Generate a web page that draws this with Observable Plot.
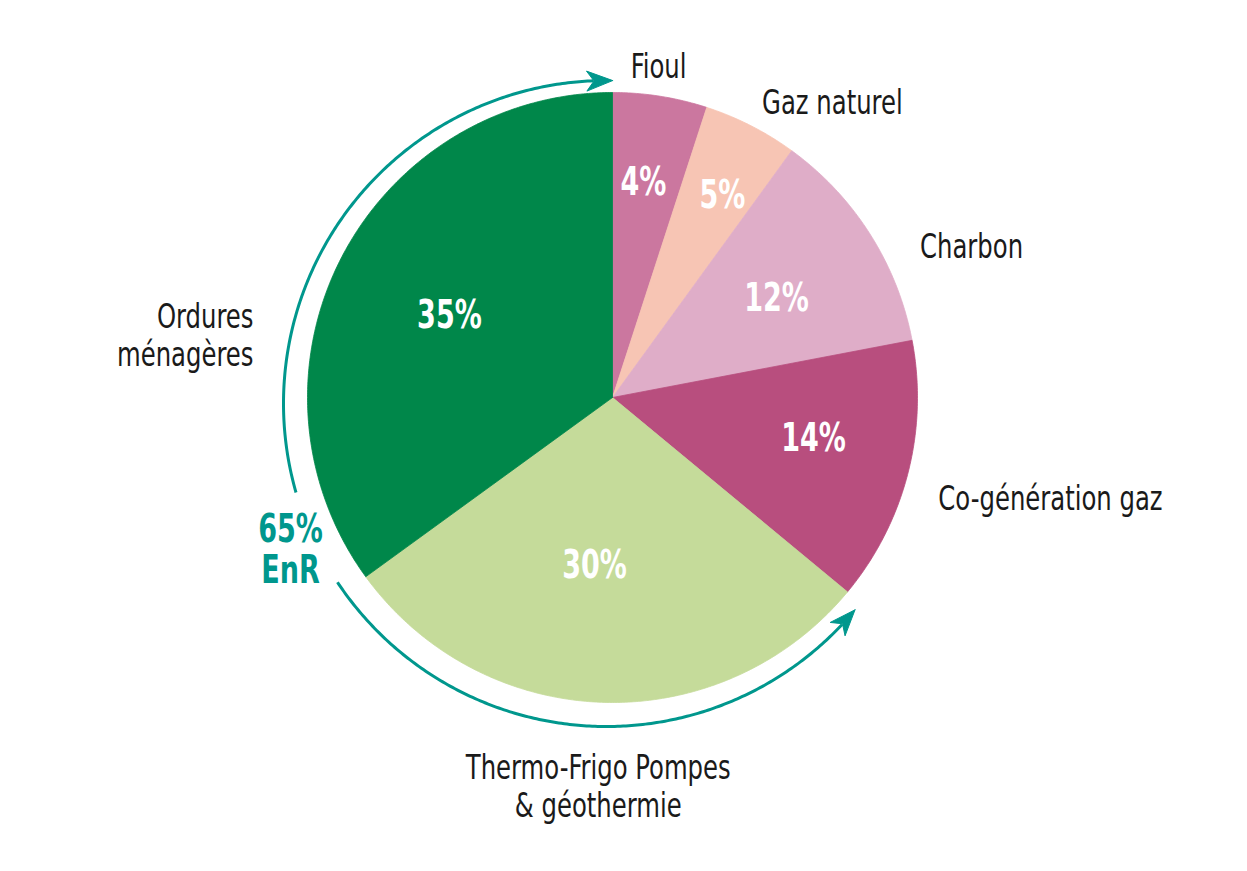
<!DOCTYPE html>
<html><head><meta charset="utf-8">
<script src="https://cdn.jsdelivr.net/npm/d3@7"></script>
<script src="https://cdn.jsdelivr.net/npm/@observablehq/plot@0.6"></script>
<style>html,body{margin:0;padding:0;background:#fff} svg{display:block}</style>
</head><body><div id="chart"></div>
<script>
// ---------- DATA ----------
const categories = ["Fioul", "Gaz naturel", "Charbon", "Co-génération gaz", "Thermo-Frigo Pompes\n& géothermie", "Ordures\nménagères"];
const shares = [5, 5, 12, 14, 29, 35];            // proportions as drawn (slice angles)
const shareLabels = ["4%", "5%", "12%", "14%", "30%", "35%"];
const enrLabel = "65%\nEnR";
const colors = ["#cb779f", "#f7c5b4", "#dfadc8", "#b84e7e", "#c5db9a", "#00874a"];

// ---------- LAYOUT ----------
const W = 1247, H = 871;
const FONT = "'DejaVu Sans Condensed', sans-serif";
const TEAL = "#00978d";
const pieGeom = {cx: 612, cy: 397, r: 305};
const innerLabelPos = [[8.2, 216.7], [28.6, 229.6], [59, 191.3], [101.4, 205], [186.1, 168.5], [296.8, 182.7]];
const outerLabelPos = [[7.9, 335.2], [36.6, 368.8], [67.06, 389.9], [102.9, 449.3], [182.1, 388.3], [279.95, 364.5]];
const outerAnchor = ["middle", "middle", "middle", "middle", "middle", "end"];
const ring = {cx: 606, cy: 403, r: 323};
const arrows = [{from: 254, to: 361.1}, {from: 236.4, to: 129.7}];
const enrPos = {x: 290, y: 549};
const NARROW_REG = 0.82, NARROW_BOLD = 0.77;

const rad = d => d * Math.PI / 180;
const polar = (cx, cy, r, a) => [cx + r * Math.sin(a), cy - r * Math.cos(a)];

// slices
const arcs = d3.pie().sort(null).value(d => d)(shares);
const sliceData = arcs.flatMap((a, i) => {
  const pts = [[pieGeom.cx, pieGeom.cy]];
  const n = Math.max(4, Math.ceil((a.endAngle - a.startAngle) / rad(0.5)));
  for (let k = 0; k <= n; k++) {
    const t = a.startAngle + (a.endAngle - a.startAngle) * k / n;
    pts.push(polar(pieGeom.cx, pieGeom.cy, pieGeom.r, t));
  }
  pts.push([pieGeom.cx, pieGeom.cy]);
  return pts.map(p => ({x: p[0], y: p[1], key: i, color: colors[i]}));
});

// inner labels
const innerData = shareLabels.map((t, i) => {
  const [x, y] = polar(pieGeom.cx, pieGeom.cy, innerLabelPos[i][1], rad(innerLabelPos[i][0]));
  return {x, y, text: t};
});
// outer labels
const outerData = categories.map((t, i) => {
  const [x, y] = polar(pieGeom.cx, pieGeom.cy, outerLabelPos[i][1], rad(outerLabelPos[i][0]));
  return {x, y, text: t, anchor: outerAnchor[i]};
});

// arrows
const HEAD_L = 26, HEAD_W = 20;
const arcLines = [], heads = [];
arrows.forEach((ar, j) => {
  const dir = Math.sign(ar.to - ar.from);
  const headAng = HEAD_L / ring.r * 180 / Math.PI;
  const lineEnd = ar.to - dir * headAng * 0.75;
  const n = Math.ceil(Math.abs(lineEnd - ar.from) / 0.5);
  for (let k = 0; k <= n; k++) {
    const a = ar.from + (lineEnd - ar.from) * k / n;
    const [x, y] = polar(ring.cx, ring.cy, ring.r, rad(a));
    arcLines.push({x, y, key: j});
  }
  const tip = polar(ring.cx, ring.cy, ring.r, rad(ar.to));
  const back = polar(ring.cx, ring.cy, ring.r, rad(ar.to - dir * headAng));
  const dx = tip[0] - back[0], dy = tip[1] - back[1], L = Math.hypot(dx, dy);
  const ux = dx / L, uy = dy / L, nx = -uy, ny = ux;
  const bx = tip[0] - HEAD_L * ux, by = tip[1] - HEAD_L * uy;
  const notch = [tip[0] - HEAD_L * 0.72 * ux, tip[1] - HEAD_L * 0.72 * uy];
  const poly = [tip, [bx + nx * HEAD_W / 2, by + ny * HEAD_W / 2], notch, [bx - nx * HEAD_W / 2, by - ny * HEAD_W / 2], tip];
  poly.forEach(p => heads.push({x: p[0], y: p[1], key: j}));
});

const chart = Plot.plot({
  width: W, height: H, margin: 0,
  x: {domain: [0, W], range: [0, W], axis: null},
  y: {domain: [0, H], range: [0, H], axis: null},
  color: {type: "identity"},
  style: {fontFamily: FONT, background: "white"},
  marks: [
    Plot.line(sliceData, {x: "x", y: "y", z: "key", fill: "color", stroke: "color", strokeWidth: 0.8, curve: "linear"}),
    Plot.line(arcLines, {x: "x", y: "y", z: "key", stroke: TEAL, strokeWidth: 3, strokeLinecap: "butt", curve: "linear"}),
    Plot.line(heads, {x: "x", y: "y", z: "key", fill: TEAL, stroke: TEAL, strokeWidth: 1, strokeLinejoin: "miter", curve: "linear"}),
    Plot.text(innerData, {x: "x", y: "y", text: "text", fill: "white", fontSize: 39, fontWeight: "bold", lineAnchor: "middle", fontFamily: FONT, className: "boldtxt"}),
    Plot.text(outerData.filter(d => d.anchor === "middle"), {x: "x", y: "y", text: "text", fill: "#1a1a1a", fontSize: 33, lineHeight: 1.18, textAnchor: "middle", lineAnchor: "middle", fontFamily: FONT, className: "regtxt"}),
    Plot.text(outerData.filter(d => d.anchor === "end"), {x: "x", y: "y", text: "text", fill: "#1a1a1a", fontSize: 33, lineHeight: 1.18, textAnchor: "end", lineAnchor: "middle", fontFamily: FONT, className: "regtxt"}),
    Plot.text([{x: enrPos.x, y: enrPos.y, text: enrLabel}], {x: "x", y: "y", text: "text", fill: TEAL, fontSize: 39, fontWeight: "bold", lineHeight: 1.05, textAnchor: "middle", lineAnchor: "middle", fontFamily: FONT, className: "boldtxt"})
  ]
});
// condense the font horizontally to mimic the original condensed typeface
d3.select(chart).selectAll(".regtxt text").attr("transform", function() { return (this.getAttribute("transform") || "") + ` scale(${NARROW_REG},1)`; });
d3.select(chart).selectAll(".boldtxt text").attr("transform", function() { return (this.getAttribute("transform") || "") + ` scale(${NARROW_BOLD},1)`; });
document.getElementById("chart").appendChild(chart);
</script>
</body></html>
